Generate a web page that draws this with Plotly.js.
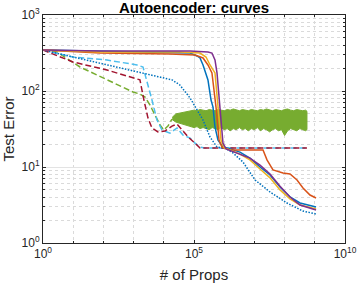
<!DOCTYPE html>
<html><head><meta charset="utf-8">
<script src="https://cdn.plot.ly/plotly-3.0.1.min.js"></script>
<style>html,body{margin:0;padding:0;background:#fff}#chart{width:360px;height:287px}</style>
</head><body><div id="chart"></div>
<script>
// Solid curves
const xBlue = [1,77,1.6e4,7.4e4,1.26e5,1.58e5,1.99e5,2.9e5,3.66e5,4.26e5,4.95e5,5.78e5,6.24e5,9.1e5,1.24e6,3.33e6,7.1e6,1.53e7,3.29e7,7.05e7,1.51e8,3.24e8,1.1e9];
const yBlue = [346,336,326,316,289,272,220,140,76,61.5,33.6,24.8,22.6,18.3,17.8,15.7,13.1,10.0,7.85,5.46,4.03,3.36,2.98];
const xOrange = [1,77,1.6e4,1.08e5,1.99e5,2.9e5,3.93e5,5.35e5,6.73e5,8.45e5,1.56e6,1.93e7,2.61e7,4.13e7,8.85e7,1.51e8,2.58e8,4.06e8,6.93e8,1.1e9];
const yOrange = [346,316,306,298,272,220,173,61.5,22.6,18.3,16.8,16.8,12.4,9.14,8.34,8.09,6.75,5.3,4.28,3.91];
const xYellow = [1,77,3.4e4,1.58e5,2.5e5,3.39e5,4.95e5,6.24e5,7.84e5,1.0e6,1.56e6,3.33e6,7.1e6,1.53e7,3.29e7,7.05e7,1.51e8,3.24e8,1.1e9];
const yYellow = [346,326,326,316,280,220,173,61.5,22.6,17.8,16.8,14.8,12.4,9.4,7.2,5.0,3.8,3.16,2.8];
const xPurple = [1,77,7.4e4,2.9e5,3.93e5,4.95e5,5.78e5,7.3e5,9.1e5,1.15e6,1.8e6,3.33e6,7.1e6,1.53e7,3.29e7,7.05e7,1.51e8,3.24e8,1.1e9];
const yPurple = [346,336,336,326,316,256,173,61.5,20.6,17.3,16.2,14.8,13.1,10.6,8.1,5.6,4.03,3.16,2.72];
// Dotted blue
const xDotted = [1,77,7.5e3,1.87e4,3.4e4,7.4e4,1.99e5,3.39e5,5.78e5,1.06e6,1.95e6,4.2e6,1.05e7,3.29e7,1.2e8,4.06e8,1.1e9];
const yDotted = [346,234,153,140,120,81,41.5,24.8,18.3,17.8,15.3,11.6,6.75,4.69,3.36,2.63,2.41];
// Dashed curves
const xLightBlue = [1,9.8,131,1.3e3,2.05e3,2.78e3,4.06e3,5.96e3,8.7e3,1.6e4,2.74e4,4.32e4,7.4e4,1.08e5,1.58e5,2.31e5,5.5e8];
const yLightBlue = [346,280,256,220,207,127,76,41.5,30.7,27.9,32.6,26.3,24,20.6,18.3,17.8,17.8];
const xDarkRed = [1,9.8,131,1.62e3,2.2e3,3.0e3,4.06e3,6.4e3,1.1e4,1.87e4,2.74e4,4.0e4,6.4e4,1.08e5,1.58e5,5.5e8];
const yDarkRed = [346,241,189,140,76,44,32.6,29,29.8,34.5,36.7,30.7,24.8,20.6,17.8,17.8];
const xGreen = [1,2.9,16.8,131,955,1.62e3,2.4e3,3.5e3,5.1e3,7.5e3,1.0e4,1.37e4,1.87e4];
const yGreen = [346,326,207,140,97,91,83,65,48,35.7,30.7,34.5,42.8];
// Green noisy band (edges)
const xBand = [1.9e4,2.5e4,3.2e4,4.0e4,5.0e4,6.3e4,7.9e4,1.0e5,1.26e5,1.58e5,2.0e5,2.5e5,3.2e5,4.0e5,5.0e5,6.3e5,7.9e5,1.0e6,1.26e6,1.58e6,2.0e6,2.5e6,3.2e6,4.0e6,5.0e6,6.3e6,7.9e6,1.0e7,1.26e7,1.58e7,2.0e7,2.5e7,3.2e7,4.0e7,5.0e7,6.3e7,7.9e7,1.0e8,1.26e8,1.58e8,2.0e8,2.5e8,3.2e8,4.0e8,5.0e8,5.5e8];
const yBandTop = [45,50,51,52,53,54,55,56,55,57,56,55,57,56,55,57,56,55,57,56,58,56,55,57,56,55,57,56,55,57,56,58,56,55,57,56,55,57,58,56,55,57,56,55,56,54];
const yBandLow = [42,39,38,37,36,35,34,33,34,32,33,32,31,33,32,31,33,31,32,30,32,31,33,31,32,30,32,31,33,30,32,31,29,31,32,30,31,26,30,32,31,30,32,31,30,31];

const xTickVals = [1,1e5,1e10];
const xTickText = ['10<sup>0</sup>','10<sup>5</sup>','10<sup>10</sup>'];
const xMinorVals = [10,100,1e3,1e4,1e6,1e7,1e8,1e9];
const yTickVals = [1,10,100,1000];
const yTickText = ['10<sup>0</sup>','10<sup>1</sup>','10<sup>2</sup>','10<sup>3</sup>'];
const yMinorVals = [2,3,4,5,6,7,8,9,20,30,40,50,60,70,80,90,200,300,400,500,600,700,800,900];

const C = {blue:'#0072BD',orange:'#D95319',yellow:'#EDB120',purple:'#7E2F8E',green:'#77AC30',lblue:'#4DBEEE',dred:'#A2142F'};
const W = 1.5;
const traces = [
  {x: xBand.concat(xBand.slice().reverse()), y: yBandTop.concat(yBandLow.slice().reverse()), mode:'lines', fill:'toself', fillcolor:C.green, line:{color:C.green,width:1}},
  {x:xGreen, y:yGreen, mode:'lines', line:{color:C.green,width:W,dash:'6px,3px'}},
  {x:xLightBlue, y:yLightBlue, mode:'lines', line:{color:C.lblue,width:W,dash:'6px,3px'}},
  {x:xDarkRed, y:yDarkRed, mode:'lines', line:{color:C.dred,width:W,dash:'6px,3px'}},
  {x:xDotted, y:yDotted, mode:'lines', line:{color:C.blue,width:W,dash:'1.5px,1.5px'}},
  {x:xBlue, y:yBlue, mode:'lines', line:{color:C.blue,width:W}},
  {x:xOrange, y:yOrange, mode:'lines', line:{color:C.orange,width:W}},
  {x:xYellow, y:yYellow, mode:'lines', line:{color:C.yellow,width:W}},
  {x:xPurple, y:yPurple, mode:'lines', line:{color:C.purple,width:W}}
];
const F = 'Liberation Sans, Arial, Helvetica, sans-serif';
const axisCommon = {
  type:'log', showline:true, linecolor:'#262626', linewidth:1, mirror:'allticks',
  ticks:'inside', ticklen:3, tickcolor:'#262626', tickwidth:1,
  tickfont:{family:F,size:12,color:'#262626'},
  showgrid:true, gridcolor:'#e3e3e3', gridwidth:1, zeroline:false, tickmode:'array'
};
const layout = {
  width:360, height:287, paper_bgcolor:'#fff', plot_bgcolor:'#fff', showlegend:false,
  margin:{l:43,r:15,t:15,b:44},
  title:{text:'<b>Autoencoder: curves</b>', font:{family:F,size:15,color:'#000'}, x:194/360, xanchor:'center', xref:'container', y:1-8/287, yanchor:'middle', yref:'container'},
  xaxis:Object.assign({}, axisCommon, {range:[0,10], tickvals:xTickVals, ticktext:xTickText,
    minor:{tickmode:'array', tickvals:xMinorVals, ticks:'inside', ticklen:2, tickcolor:'#262626', showgrid:true, gridcolor:'#dadada', griddash:'dot', gridwidth:1},
    title:{text:'# of Props', font:{family:F,size:15,color:'#262626'}, standoff:9}}),
  yaxis:Object.assign({}, axisCommon, {range:[0,3], tickvals:yTickVals, ticktext:yTickText,
    minor:{tickmode:'array', tickvals:yMinorVals, ticks:'inside', ticklen:2, tickcolor:'#262626', showgrid:true, gridcolor:'#dadada', griddash:'dot', gridwidth:1},
    title:{text:'Test Error', font:{family:F,size:15,color:'#262626'}, standoff:3}})
};
Plotly.newPlot('chart', traces, layout, {staticPlot:true, displayModeBar:false});
</script></body></html>
